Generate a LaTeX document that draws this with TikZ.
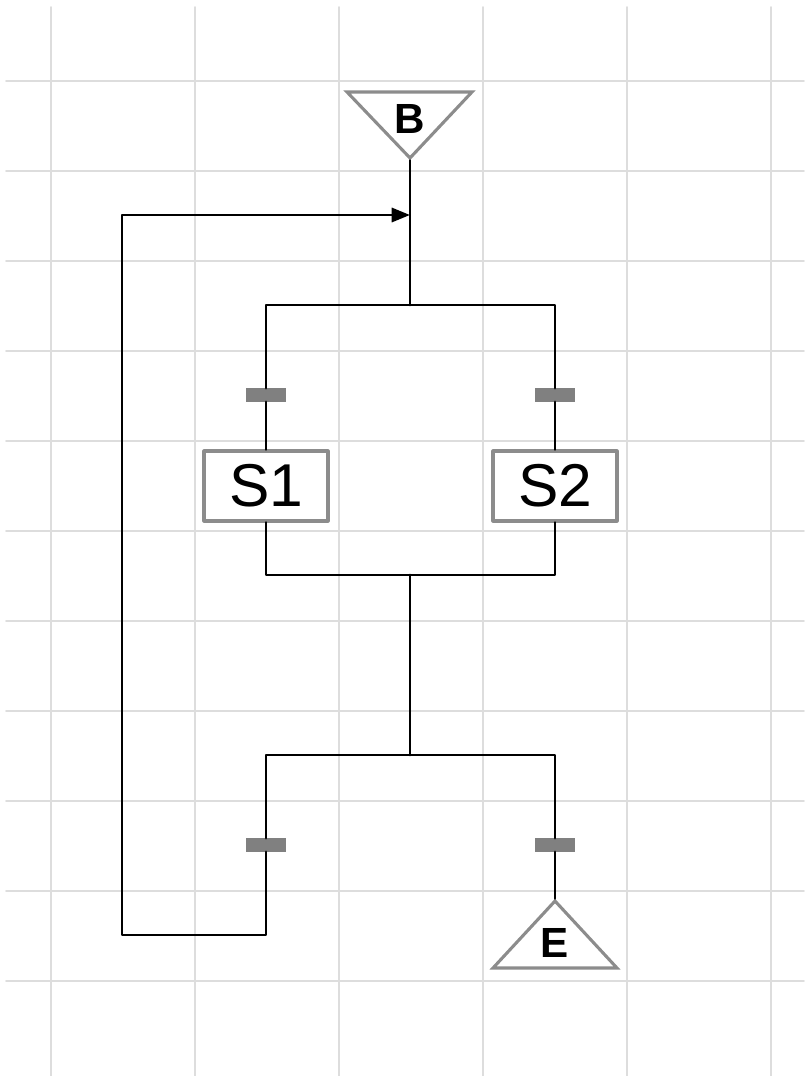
\documentclass[tikz,border=0pt]{standalone}
\usepackage{fontspec}
\setsansfont{Liberation Sans}
\usetikzlibrary{arrows.meta}
\definecolor{gridgray}{HTML}{DDDDDD}
\definecolor{framegray}{HTML}{8C8C8C}
\definecolor{bargray}{HTML}{808080}
\tikzset{
  wire/.style={line width=2.1pt, black},
  stepbox/.style={draw=framegray, line width=2.2pt, fill=white, minimum width=3.1cm, minimum height=1.75cm, inner sep=0pt, font=\sffamily\fontsize{43}{48}\selectfont},
  transbar/.style={fill=bargray, draw=none, minimum width=1cm, minimum height=0.33cm, inner sep=0pt},
  term/.style={draw=framegray, line width=2.2pt, fill=white, line join=miter},
  termtext/.style={font=\sffamily\bfseries\fontsize{30}{34}\selectfont, inner sep=0pt}
}
\begin{document}
\begin{tikzpicture}[x=0.025cm, y=-0.025cm, line join=round, line cap=round, >={Triangle[length=13pt, width=10pt]}]
  \useasboundingbox (0,0) rectangle (804,1076);
  % Raster
  \foreach \gx in {51,195,...,771} \draw[gridgray, line width=1.3pt] (\gx,7) -- (\gx,1076);
  \foreach \gy in {81,171,...,981} \draw[gridgray, line width=1.3pt] (6,\gy) -- (804,\gy);

  % Knotenpunkte
  \coordinate (Bapex) at (410,158); \coordinate (Eapex) at (555,901);
  \coordinate (M) at (410,215);
  \coordinate (J1) at (410,305); \coordinate (J2) at (410,575);
  \coordinate (J3) at (410,755); \coordinate (Lc) at (122,935);

  % Schritte und Transitionen
  \node[stepbox] (S1) at (266,486) {S1};
  \node[stepbox] (S2) at (555,486) {S2};
  \node[transbar] (T1) at (266,395) {};
  \node[transbar] (T2) at (555,395) {};
  \node[transbar] (T3) at (266,845) {};
  \node[transbar] (T4) at (555,845) {};

  % Verbindungen
  \draw[wire] (Bapex) -- (J1);
  \draw[wire] (J1) -| (T1); \draw[wire] (J1) -| (T2);
  \draw[wire] (T1) -- (S1); \draw[wire] (T2) -- (S2);
  \draw[wire] (S1) |- (J2); \draw[wire] (S2) |- (J2);
  \draw[wire] (J2) -- (J3);
  \draw[wire] (J3) -| (T3); \draw[wire] (J3) -| (T4);
  \draw[wire] (T4) -- (Eapex);
  \draw[wire, ->] (T3) |- (Lc) |- (M);

  % Anfang und Ende
  \draw[term] (347,92) -- (472,92) -- (Bapex) -- cycle;
  \node[termtext] (B) at (410,119) {B};
  \draw[term] (Eapex) -- (617,968) -- (493,968) -- cycle;
  \node[termtext] (E) at (555,943) {E};
\end{tikzpicture}
\end{document}
